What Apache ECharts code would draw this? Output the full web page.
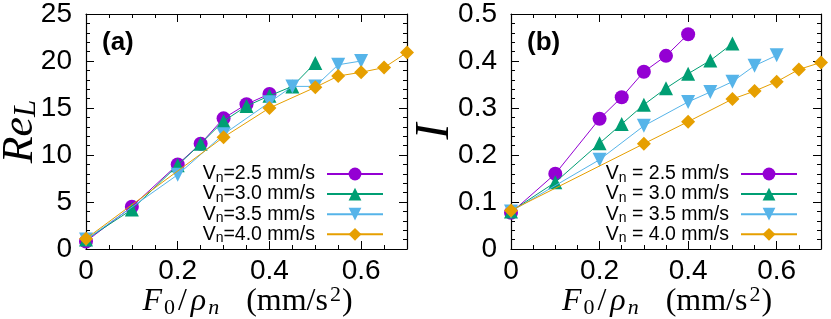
<!DOCTYPE html>
<html>
<head>
<meta charset="utf-8">
<script src="https://cdn.jsdelivr.net/npm/echarts@6/dist/echarts.min.js"></script>
<style>
html,body{margin:0;padding:0;background:#fff;}
#c{width:831px;height:319px;}
</style>
</head>
<body>
<div id="c"></div>
<script>
// ---------- Data ----------
const seriesNamesA = ['V_n=2.5 mm/s', 'V_n=3.0 mm/s', 'V_n=3.5 mm/s', 'V_n=4.0 mm/s'];
const seriesNamesB = ['V_n = 2.5 mm/s', 'V_n = 3.0 mm/s', 'V_n = 3.5 mm/s', 'V_n = 4.0 mm/s'];

// F0/rho_n values per series
const f25 = [0, 0.1, 0.2, 0.25, 0.3, 0.35, 0.4];
const f30 = [0, 0.1, 0.2, 0.25, 0.3, 0.35, 0.4, 0.45, 0.5];
const f35 = [0, 0.2, 0.3, 0.4, 0.45, 0.5, 0.55, 0.6];
const f40 = [0, 0.3, 0.4, 0.5, 0.55, 0.6, 0.65, 0.7];

// (a) Re_L
const reL25 = [0.8, 4.5, 9.0, 11.2, 13.9, 15.4, 16.5];
const reL30 = [1.0, 4.2, 8.9, 11.2, 13.6, 15.2, 16.3, 17.3, 19.8];
const reL35 = [1.0, 7.9, 12.2, 15.6, 17.3, 17.3, 19.6, 20.0];
const reL40 = [1.1, 11.9, 15.0, 17.2, 18.4, 18.8, 19.3, 20.9];

// (b) I
const i25 = [0.077, 0.160, 0.277, 0.323, 0.377, 0.411, 0.457];
const i30 = [0.080, 0.142, 0.225, 0.266, 0.307, 0.342, 0.373, 0.401, 0.437];
const i35 = [0.080, 0.190, 0.262, 0.313, 0.334, 0.356, 0.390, 0.412];
const i40 = [0.082, 0.224, 0.271, 0.319, 0.336, 0.356, 0.382, 0.397];

const xTickLabels = ['0', '0.2', '0.4', '0.6'];
const yTickLabelsA = ['0', '5', '10', '15', '20', '25'];
const yTickLabelsB = ['0', '0.1', '0.2', '0.3', '0.4', '0.5'];

// ---------- Styles ----------
const colors = ['#9400D3', '#009E73', '#56B4E9', '#E69F00'];
const symbols = ['circle', 'triangle', 'triangle', 'diamond'];
const rotates = [0, 0, 180, 0];
const symSizes = [14, 14, 14, 14];

const xsList = [f25, f30, f35, f40];
const ysA = [reL25, reL30, reL35, reL40];
const ysB = [i25, i30, i35, i40];

const sansFont = '"Liberation Sans", Arial, Helvetica, sans-serif';
const serifFont = '"Liberation Serif", "Times New Roman", serif';

function pairs(xs, ys) { return xs.map((x, k) => [x, ys[k]]); }

function xAxesFor(gridIndex) {
  const base = {
    gridIndex, type: 'value', min: 0, max: 0.7,
    splitLine: { show: false },
    axisLine: { onZero: false, lineStyle: { color: '#000', width: 1.2 } },
  };
  return [
    Object.assign({}, base, {
      position: 'bottom', interval: 0.05,
      axisTick: { inside: true, length: 4, lineStyle: { color: '#000' } },
      axisLabel: {
        margin: 8, color: '#000', fontFamily: sansFont, fontSize: 28,
        formatter: function (v) {
          const r = v / 0.2;
          if (Math.abs(r - Math.round(r)) < 1e-6) {
            const idx = Math.round(r);
            return xTickLabels[idx] !== undefined ? xTickLabels[idx] : '';
          }
          return '';
        }
      },
      name: '{i|F}{s|0}{n|/}{i|ρ}{si|n}{sp| }{n|(mm/s}{sup|2}{n|)}',
      nameLocation: 'middle', nameGap: 37, nameMoveOverlap: false,
      nameTextStyle: {
        color: '#000',
        rich: {
          i: { fontFamily: serifFont, fontStyle: 'italic', fontSize: 32, lineHeight: 32, padding: [0, 2, 0, 3], color: '#000' },
          n: { fontFamily: serifFont, fontSize: 32, lineHeight: 32, padding: [0, 1, 0, 1], color: '#000' },
          s: { fontFamily: serifFont, fontSize: 22, lineHeight: 22, padding: [12, 2, 0, 0], color: '#000' },
          si: { fontFamily: serifFont, fontStyle: 'italic', fontSize: 22, lineHeight: 22, padding: [12, 0, 0, 0], color: '#000' },
          sup: { fontFamily: serifFont, fontSize: 22, lineHeight: 22, padding: [0, 0, 14, 1], color: '#000' },
          sp: { fontSize: 32, width: 26 }
        }
      }
    }),
    Object.assign({}, base, {
      position: 'bottom', interval: 0.2,
      axisLine: { show: false, onZero: false },
      axisTick: { inside: true, length: 8, lineStyle: { color: '#000' } },
      axisLabel: { show: false }
    }),
    Object.assign({}, base, {
      position: 'top', interval: 0.05,
      axisTick: { inside: true, length: 4, lineStyle: { color: '#000' } },
      axisLabel: { show: false }
    }),
    Object.assign({}, base, {
      position: 'top', interval: 0.2,
      axisLine: { show: false, onZero: false },
      axisTick: { inside: true, length: 8, lineStyle: { color: '#000' } },
      axisLabel: { show: false }
    })
  ];
}

function yAxesFor(gridIndex, max, interval, labels, name, nameGap, rich) {
  const base = {
    gridIndex, type: 'value', min: 0, max: max, interval: interval,
    splitLine: { show: false },
    axisLine: { onZero: false, lineStyle: { color: '#000', width: 1.2 } },
    axisTick: { inside: true, length: 8, lineStyle: { color: '#000' } },
    minorTick: { show: true, splitNumber: 5, length: 4, lineStyle: { color: '#000' } }
  };
  return [
    Object.assign({}, base, {
      position: 'left',
      axisLabel: {
        margin: 14, color: '#000', fontFamily: sansFont, fontSize: 28,
        formatter: function (v) {
          const idx = Math.round(v / interval);
          return labels[idx] !== undefined ? labels[idx] : '';
        }
      },
      name: name, nameLocation: 'middle', nameGap: nameGap, nameMoveOverlap: false,
      nameTextStyle: { color: '#000', rich: rich }
    }),
    Object.assign({}, base, {
      position: 'right',
      axisLabel: { show: false }
    })
  ];
}

const richA = {
  i: { fontFamily: serifFont, fontStyle: 'italic', fontSize: 44, lineHeight: 44, color: '#000' },
  si: { fontFamily: serifFont, fontStyle: 'italic', fontSize: 31, lineHeight: 31, padding: [14, 0, 0, 0], color: '#000' }
};
const richB = {
  i: { fontFamily: serifFont, fontStyle: 'italic', fontSize: 48, lineHeight: 48, color: '#000' }
};

const legendRich = {
  v: { fontFamily: sansFont, fontSize: 19.5, lineHeight: 18, color: '#000' },
  sub: { fontFamily: sansFont, fontSize: 14, lineHeight: 10, padding: [8, 0, 0, 0], color: '#000' }
};
function legendFmt(name) {
  const rest = name.slice(3);
  return '{v|V}{sub|n}{v|' + rest + '}';
}

const series = [];
for (let k = 0; k < 4; k++) {
  series.push({
    name: seriesNamesA[k], type: 'line', xAxisIndex: 0, yAxisIndex: 0,
    data: pairs(xsList[k], ysA[k]),
    symbol: symbols[k], symbolRotate: rotates[k], symbolSize: symSizes[k],
    lineStyle: { color: colors[k], width: 1 },
    itemStyle: { color: colors[k] },
    showAllSymbol: true, animation: false, z: 2 + k
  });
}
for (let k = 0; k < 4; k++) {
  series.push({
    name: seriesNamesB[k], type: 'line', xAxisIndex: 4, yAxisIndex: 2,
    data: pairs(xsList[k], ysB[k]),
    symbol: symbols[k], symbolRotate: rotates[k], symbolSize: symSizes[k],
    lineStyle: { color: colors[k], width: 1 },
    itemStyle: { color: colors[k] },
    showAllSymbol: true, animation: false, z: 2 + k
  });
}

const legendBase = {
  orient: 'vertical', align: 'right', itemWidth: 56, itemHeight: 16, itemGap: -1.9,
  padding: 0, top: 163, selectedMode: false,
  formatter: legendFmt,
  textStyle: { padding: [0, 7, 0, 0], rich: legendRich }
};

const option = {
  animation: false,
  backgroundColor: '#fff',
  title: [
    { text: '(a)', left: 102, top: 30, padding: 0, textStyle: { fontFamily: sansFont, fontWeight: 'bold', fontSize: 26, color: '#000' } },
    { text: '(b)', left: 527, top: 30, padding: 0, textStyle: { fontFamily: sansFont, fontWeight: 'bold', fontSize: 26, color: '#000' } }
  ],
  grid: [
    { left: 86, right: 424, top: 14, bottom: 70, containLabel: false, outerBoundsMode: 'none' },
    { left: 511, right: 10, top: 14, bottom: 70, containLabel: false, outerBoundsMode: 'none' }
  ],
  xAxis: xAxesFor(0).concat(xAxesFor(1)),
  yAxis: yAxesFor(0, 25, 5, yTickLabelsA, '{i|Re}{si|L}', 44, richA)
    .concat(yAxesFor(1, 0.5, 0.1, yTickLabelsB, '{i|I}', 52, richB)),
  legend: [
    Object.assign({}, legendBase, { data: seriesNamesA, right: 447 }),
    Object.assign({}, legendBase, { data: seriesNamesB, right: 33 })
  ],
  series: series
};

const chart = echarts.init(document.getElementById('c'), null, { renderer: 'canvas' });
chart.setOption(option);
</script>
</body>
</html>
